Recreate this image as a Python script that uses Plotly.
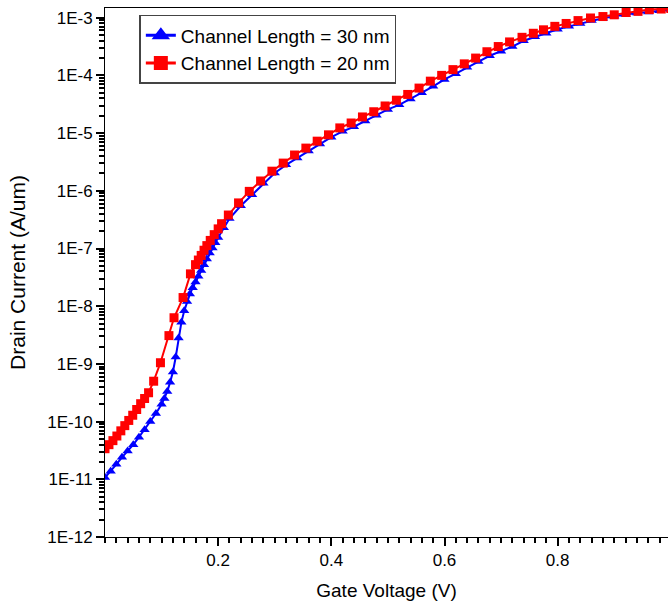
import numpy as np
import plotly.graph_objects as go

# Channel Length = 30 nm (blue, triangles)
blue_voltage = [0.00, 0.01, 0.02, 0.03, 0.04, 0.05, 0.06, 0.07, 0.08, 0.09, 0.10,
                0.105, 0.11, 0.115, 0.12, 0.125, 0.13, 0.135, 0.14, 0.145, 0.15,
                0.155, 0.16, 0.165, 0.17, 0.175, 0.18, 0.185, 0.19, 0.195, 0.20,
                0.21, 0.22, 0.24, 0.26, 0.28, 0.30, 0.32, 0.34, 0.36, 0.38, 0.40,
                0.42, 0.44, 0.46, 0.48, 0.50, 0.52, 0.54, 0.56, 0.58, 0.60, 0.62,
                0.64, 0.66, 0.68, 0.70, 0.72, 0.74, 0.76, 0.78, 0.80, 0.82, 0.84,
                0.86, 0.88, 0.90, 0.92, 0.94, 0.96, 0.98, 1.00]
blue_log10_current = [-10.97, -10.86, -10.74, -10.62, -10.51, -10.40, -10.27, -10.14, -10.00, -9.86, -9.70,
                      -9.60, -9.48, -9.32, -9.14, -8.88, -8.55, -8.28, -8.08, -7.92, -7.79,
                      -7.68, -7.58, -7.48, -7.38, -7.28, -7.18, -7.08, -6.99, -6.90, -6.81,
                      -6.64, -6.48, -6.26, -6.07, -5.87, -5.69, -5.55, -5.43, -5.31, -5.19, -5.07,
                      -4.97, -4.89, -4.79, -4.69, -4.59, -4.51, -4.41, -4.30, -4.19, -4.07, -3.97,
                      -3.86, -3.76, -3.66, -3.58, -3.50, -3.40, -3.33, -3.27, -3.20, -3.15, -3.10,
                      -3.05, -3.01, -2.975, -2.945, -2.92, -2.90, -2.88, -2.86]

# Channel Length = 20 nm (red, squares)
red_voltage = [0.000, 0.007, 0.014, 0.021, 0.028, 0.035, 0.042, 0.049, 0.056, 0.063, 0.070,
               0.077, 0.086, 0.098, 0.113, 0.122, 0.138, 0.151, 0.160, 0.165, 0.170,
               0.175, 0.180, 0.186, 0.193, 0.200, 0.206, 0.218, 0.236, 0.255, 0.275,
               0.295, 0.315, 0.335, 0.355, 0.375, 0.395, 0.415, 0.435, 0.455, 0.475,
               0.495, 0.515, 0.535, 0.555, 0.575, 0.595, 0.615, 0.635, 0.655, 0.675,
               0.695, 0.715, 0.737, 0.757, 0.775, 0.795, 0.815, 0.836, 0.858, 0.880,
               0.900, 0.921, 0.942, 0.962, 0.983, 1.000]
red_log10_current = [-10.47, -10.40, -10.33, -10.25, -10.16, -10.07, -9.98, -9.89, -9.79, -9.69, -9.60,
                     -9.50, -9.30, -8.98, -8.51, -8.20, -7.85, -7.44, -7.28, -7.20, -7.12,
                     -7.03, -6.95, -6.86, -6.76, -6.66, -6.57, -6.42, -6.21, -6.01, -5.83,
                     -5.66, -5.52, -5.38, -5.26, -5.14, -5.03, -4.91, -4.825, -4.72, -4.63,
                     -4.53, -4.43, -4.33, -4.22, -4.10, -4.00, -3.90, -3.80, -3.70, -3.59,
                     -3.50, -3.42, -3.34, -3.27, -3.21, -3.15, -3.10, -3.05, -3.005, -2.98,
                     -2.95, -2.91, -2.89, -2.86, -2.85, -2.84]

series_names = ["Channel Length = 30 nm", "Channel Length = 20 nm"]

x_tick_vals = [0.2, 0.4, 0.6, 0.8, 1.0]
x_tick_text = ["0.2", "0.4", "0.6", "0.8", "1"]
y_exponents = list(range(-12, -2))
y_tick_vals = [10.0 ** e for e in y_exponents]
y_tick_text = ["1E%d" % e for e in y_exponents]

X_RANGE = [0, 0.995]
Y_RANGE = [-12, -2.832]
FONT = "Liberation Sans, Arial, Helvetica, sans-serif"
BLUE = "#0000FF"
RED = "#FF0000"
NOGRID = "rgba(0,0,0,0)"

fig = go.Figure()
fig.add_trace(go.Scatter(
    x=blue_voltage, y=[10.0 ** v for v in blue_log10_current],
    mode="lines+markers", name=series_names[0], showlegend=False,
    line=dict(color=BLUE, width=2),
    marker=dict(symbol="triangle-up", size=9, color=BLUE),
))
fig.add_trace(go.Scatter(
    x=red_voltage, y=[10.0 ** v for v in red_log10_current],
    mode="lines+markers", name=series_names[1], showlegend=False,
    line=dict(color=RED, width=2),
    marker=dict(symbol="square", size=9, color=RED),
))
# legend entries with larger symbols
fig.add_trace(go.Scatter(
    x=[None], y=[None], mode="lines+markers", name=series_names[0],
    line=dict(color=BLUE, width=3),
    marker=dict(symbol="triangle-up", size=16, color=BLUE),
))
fig.add_trace(go.Scatter(
    x=[None], y=[None], mode="lines+markers", name=series_names[1],
    line=dict(color=RED, width=3),
    marker=dict(symbol="square", size=14, color=RED),
))

fig.update_layout(
    width=668, height=601,
    margin=dict(l=105, r=0, t=8, b=64),
    plot_bgcolor="white",
    font=dict(family=FONT, color="black", size=17),
    legend=dict(
        x=0.061, y=0.987, xanchor="left", yanchor="top",
        bgcolor="white", bordercolor="#444444", borderwidth=1.5,
        font=dict(family=FONT, size=19, color="black"),
        tracegroupgap=0,
    ),
    xaxis=dict(
        range=X_RANGE, tickmode="array", tickvals=x_tick_vals, ticktext=x_tick_text,
        ticks="outside", ticklen=8, tickwidth=1.5, tickcolor="black",
        minor=dict(ticks="outside", dtick=0.02, tick0=0, ticklen=5, tickwidth=1.5,
                   tickcolor="black", gridcolor=NOGRID),
        showline=True, linecolor="black", mirror=True,
        gridcolor=NOGRID, zerolinecolor="black",
        title=dict(text="Gate Voltage (V)", font=dict(size=19)),
    ),
    yaxis=dict(
        type="log", range=Y_RANGE, tickmode="array",
        tickvals=y_tick_vals, ticktext=y_tick_text,
        ticks="outside", ticklen=8, tickwidth=1.5, tickcolor="black",
        minor=dict(ticks="outside", dtick="D1", ticklen=5, tickwidth=1.5,
                   tickcolor="black", gridcolor=NOGRID),
        showline=True, linecolor="black",
        gridcolor=NOGRID,
        title=dict(text="Drain Current (A/um)", font=dict(size=21)),
    ),
)

fig.write_html("out.html")
